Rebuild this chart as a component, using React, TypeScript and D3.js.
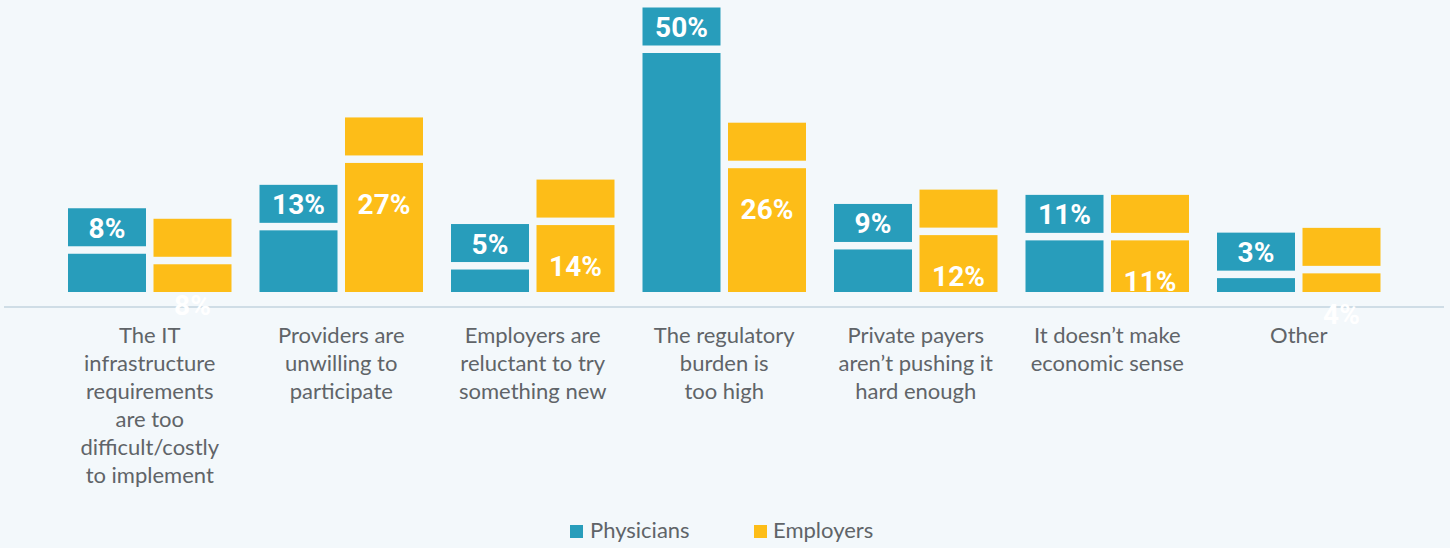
import React from "react";
import * as d3 from "d3";

const categories = [
  ["The IT", "infrastructure", "requirements", "are too", "difficult/costly", "to implement"],
  ["Providers are", "unwilling to", "participate"],
  ["Employers are", "reluctant to try", "something new"],
  ["The regulatory", "burden is", "too high"],
  ["Private payers", "aren\u2019t pushing it", "hard enough"],
  ["It doesn\u2019t make", "economic sense"],
  ["Other"],
];
const seriesNames = ["Physicians", "Employers"];
// bar heights (percent)
const physicians = [8, 12.9, 4.7, 50, 8.9, 10.8, 2.9];
const employers = [5.8, 27, 14, 25.9, 11.9, 10.8, 3.9];
const physicianLabels = ["8%", "13%", "5%", "50%", "9%", "11%", "3%"];
const employerLabels = ["8%", "27%", "14%", "26%", "12%", "11%", "4%"];

const colors = ["#289dbb", "#fdbd18"];
const W = 1450;
const H = 548;
const FONT = "Lato, 'Open Sans', sans-serif";

export default function App() {
  const keys = categories.map((_, i) => String(i));
  const x0 = d3.scaleBand().domain(keys).range([54, 1394.5]).paddingInner(0.1462).paddingOuter(0.0731);
  const x1 = d3.scaleBand().domain(seriesNames).range([0, x0.bandwidth()]).paddingInner(0.0877);
  const y = d3.scaleLinear().domain([0, 50]).range([292, 53]);
  const series = [
    { name: seriesNames[0], values: physicians, labels: physicianLabels },
    { name: seriesNames[1], values: employers, labels: employerLabels },
  ];
  const boxH = 38;
  const gap = 7.5;

  return (
    <svg width={W} height={H} style={{ position: "absolute", left: 0, top: 0, display: "block" }}>
      <rect x={0} y={0} width={W} height={H} fill="#f3f8fb" />
      <line x1={4} x2={1444} y1={307} y2={307} stroke="#cfdde6" strokeWidth={2} />
      {keys.map((k, i) => (
        <g key={k} transform={`translate(${x0(k)},0)`}>
          {series.map((s, si) => {
            const bx = x1(s.name)!;
            const top = y(s.values[i]);
            const bw = x1.bandwidth();
            return (
              <g key={s.name}>
                <rect x={bx} y={top} width={bw} height={y(0) - top} fill={colors[si]} />
                <rect x={bx} y={top - gap - boxH} width={bw} height={boxH} fill={colors[si]} />
                <text
                  x={bx + bw / 2}
                  y={si === 0 ? top - 16 : top + 51}
                  textAnchor="middle"
                  fill="#ffffff"
                  fontFamily="Roboto, sans-serif"
                  fontWeight={700}
                  fontSize={28}
                >
                  {s.labels[i]}
                </text>
              </g>
            );
          })}
          <text
            x={x0.bandwidth() / 2}
            textAnchor="middle"
            fill="#606468"
            fontFamily={FONT}
            fontSize={22}
          >
            {categories[i].map((line, li) => (
              <tspan key={li} x={x0.bandwidth() / 2} y={343 + li * 28}>
                {line}
              </tspan>
            ))}
          </text>
        </g>
      ))}
      {[
        { x: 570, tx: 590 },
        { x: 754, tx: 773 },
      ].map((l, i) => (
        <g key={seriesNames[i]}>
          <rect x={l.x} y={525} width={13} height={13} fill={colors[i]} />
          <text x={l.tx} y={538} fill="#606468" fontFamily={FONT} fontSize={22}>
            {seriesNames[i]}
          </text>
        </g>
      ))}
    </svg>
  );
}
